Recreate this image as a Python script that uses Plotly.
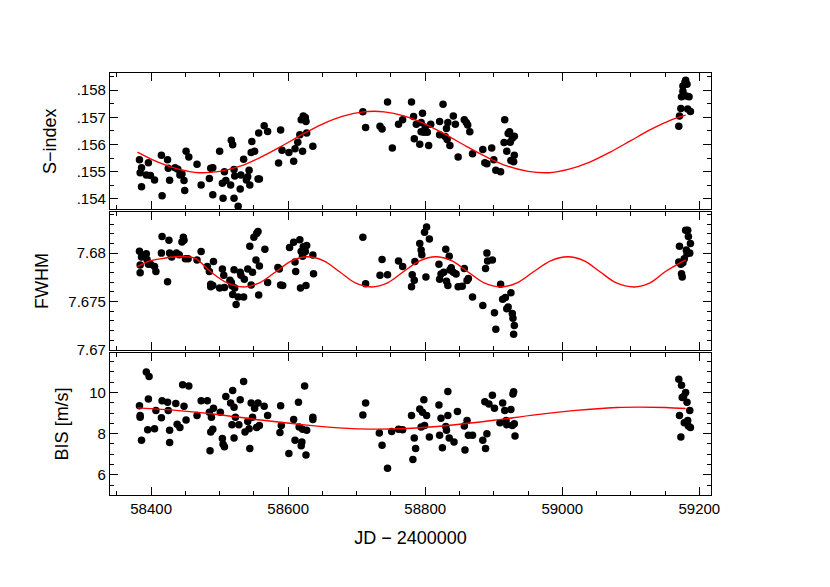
import plotly.graph_objects as go
from plotly.subplots import make_subplots

s_jd = [58383,58384,58386,58386,58393,58396,58399,58405,58415,58416,58424,58425,58427,58435,58439,58442,58445,58448,58449,58451,58455,58467,58473,58485,58487,58490,58490,58500,58504,58505,58507,58509,58516,58517,58519,58521,58521,58522,58527,58530,58531,58535,58539,58541,58543,58544,58546,58547,58551,58557,58556,58558,58565,58570,58586,58589,58591,58601,58608,58610,58614,58617,58619,58621,58622,58625,58626,58627,58636,58709,58713,58734,58737,58745,58752,58761,58767,58780,58783,58784,58787,58792,58794,58796,58794,58798,58800,58803,58805,58808,58821,58821,58826,58829,58831,58832,58833,58836,58841,58844,58848,58857,58860,58862,58865,58869,58884,58887,58890,58897,58900,58903,58910,58916,58915,58919,58921,58923,58924,58925,58927,58930,58929,58930,59170,59171,59173,59174,59176,59176,59179,59180,59181,59182,59183,59185,59187]
s_val = [.15544,.15496,.15444,.15514,.15487,.15533,.15486,.15469,.15560,.15411,.15544,.15512,.15468,.15514,.15509,.15487,.15491,.15467,.15430,.15575,.15554,.15527,.15451,.15475,.15512,.15514,.15415,.15575,.15457,.15402,.15499,.15467,.15451,.15615,.15599,.15508,.15402,.15484,.15372,.15436,.15487,.15545,.15469,.15481,.15505,.15451,.15570,.15611,.15575,.15642,.15473,.15473,.15669,.15648,.15532,.15653,.15579,.15570,.15538,.15584,.15608,.15636,.15691,.15575,.15705,.15699,.15684,.15642,.15593,.15720,.15662,.15667,.15657,.15756,.15587,.15674,.15691,.15756,.15703,.15621,.15674,.15601,.15681,.15715,.15647,.15645,.15663,.15645,.15596,.15674,.15684,.15636,.15748,.15629,.15659,.15618,.15681,.15596,.15705,.15674,.15554,.15691,.15681,.15672,.15647,.15566,.15581,.15533,.15529,.15587,.15544,.15505,.15499,.15691,.15607,.15575,.15640,.15647,.15608,.15541,.15623,.15630,.15536,.15560,.15667,.15705,.15732,.15776,.15796,.15815,.15829,.15836,.15778,.15822,.15730,.15776,.15721]

f_jd = [58383,58384,58384,58386,58393,58394,58396,58399,58405,58407,58416,58415,58424,58426,58427,58430,58437,58441,58445,58447,58448,58450,58454,58467,58473,58482,58485,58487,58487,58490,58491,58500,58504,58506,58507,58515,58517,58518,58519,58521,58522,58524,58527,58530,58531,58535,58536,58541,58544,58546,58548,58550,58553,58554,58556,58558,58557,58566,58570,58585,58587,58589,58592,58602,58608,58610,58611,58617,58618,58619,58621,58622,58625,58626,58627,58636,58637,58709,58713,58734,58737,58745,58761,58767,58780,58781,58784,58785,58792,58794,58795,58799,58801,58802,58806,58820,58821,58823,58827,58830,58831,58833,58835,58836,58838,58841,58845,58848,58854,58857,58861,58863,58869,58884,58888,58890,58891,58898,58901,58903,58910,58913,58917,58919,58921,58925,58927,58928,58930,58929,59170,59171,59173,59174,59175,59176,59178,59180,59181,59182,59183,59184,59186,59187]
f_val = [7.68020,7.67796,7.67878,7.67961,7.67993,7.67934,7.67885,7.67885,7.67862,7.67809,7.68171,7.68000,7.67704,7.68132,7.68000,7.67961,7.68000,7.67984,7.68115,7.68164,7.68132,7.67941,7.67941,7.67928,7.68016,7.67862,7.67809,7.67678,7.67651,7.67664,7.67914,7.67638,7.67836,7.67770,7.67645,7.67720,7.67697,7.67661,7.67572,7.67829,7.67638,7.67467,7.67546,7.67803,7.67770,7.67546,7.67730,7.67836,7.68072,7.67671,7.67803,7.68164,7.67928,7.68204,7.68224,7.67868,7.67566,7.68039,7.67697,7.67852,7.67836,7.67671,7.67664,7.68059,7.68112,7.67908,7.67809,7.68138,7.67638,7.68016,7.67967,7.68066,7.68016,7.67664,7.68079,7.67980,7.67786,7.68164,7.67684,7.67770,7.67934,7.67776,7.67918,7.67862,7.67651,7.67776,7.67720,7.67914,7.68099,7.68033,7.67984,7.68217,7.67753,7.68270,7.68145,7.67885,7.67730,7.67783,7.67803,7.68039,7.67710,7.67664,7.67967,7.67826,7.67849,7.67803,7.67783,7.67651,7.67658,7.67842,7.67717,7.67737,7.67546,7.67457,7.67842,7.68000,7.67918,7.67928,7.67382,7.67211,7.67678,7.67523,7.67540,7.67424,7.67441,7.67589,7.67375,7.67326,7.67250,7.67161,7.67908,7.68072,7.67885,7.67786,7.67753,7.67901,7.67941,7.68237,7.68033,7.67993,7.68237,7.68171,7.68000,7.68099]

b_jd = [58383,58384,58384,58386,58393,58396,58397,58395,58405,58407,58415,58416,58424,58425,58427,58427,58436,58438,58442,58446,58448,58451,58455,58467,58473,58482,58485,58486,58487,58488,58490,58491,58501,58504,58505,58507,58509,58516,58518,58519,58521,58521,58523,58528,58530,58535,58537,58541,58543,58544,58546,58548,58551,58554,58556,58558,58565,58570,58588,58589,58590,58601,58608,58610,58615,58616,58619,58620,58621,58624,58626,58627,58636,58636,58709,58713,58733,58737,58745,58751,58761,58767,58780,58782,58784,58786,58792,58794,58796,58798,58799,58802,58806,58820,58821,58823,58825,58830,58831,58833,58833,58835,58842,58847,58857,58858,58861,58863,58869,58884,58887,58888,58890,58893,58898,58901,58909,58913,58916,58918,58919,58925,58927,58928,58929,58930,58931,59170,59171,59173,59174,59175,59177,59178,59180,59182,59183,59184,59186,59187]
b_val = [9.36,8.88,8.80,7.68,10.99,9.68,10.77,8.19,8.24,9.12,8.77,9.60,9.52,9.12,7.57,8.16,9.47,8.46,8.30,10.38,9.33,8.66,10.32,8.88,9.60,9.60,9.04,7.17,8.08,8.80,8.21,9.23,9.04,7.76,7.49,7.36,9.81,9.49,8.43,10.10,9.28,7.79,8.80,8.43,9.65,10.53,8.08,8.59,8.24,7.28,9.49,8.80,9.23,8.30,9.49,8.40,9.33,8.88,8.05,9.36,8.40,7.04,8.69,7.68,9.52,8.32,7.41,7.60,8.21,10.32,6.96,8.16,8.69,8.80,8.91,9.49,8.03,7.44,6.32,8.11,8.21,8.19,8.88,6.74,7.79,7.28,9.20,8.32,9.04,9.65,8.40,8.88,7.84,9.39,7.92,8.75,7.31,8.35,8.16,10.05,8.88,7.79,7.60,9.07,8.37,7.20,8.64,7.92,7.92,7.68,9.55,7.28,8.00,9.44,9.87,9.23,8.53,9.49,9.12,8.64,8.43,9.17,8.40,9.92,10.03,8.48,7.89,10.64,8.88,7.84,10.35,9.76,9.81,8.53,10.00,9.52,8.64,8.37,9.12,8.30]

s_fit_jd = [58380,58410,58440,58470,58500,58530,58560,58590,58620,58650,58680,58710,58740,58770,58800,58830,58860,58890,58920,58950,58980,59010,59040,59070,59100,59130,59160,59180]
s_fit = [.15572,.15535,.15509,.15496,.15501,.15520,.15553,.15593,.15636,.15675,.15704,.15720,.15720,.15704,.15675,.15636,.15593,.15553,.15520,.15501,.15496,.15509,.15535,.15572,.15614,.15656,.15691,.15708]

f_fit_jd = [58380,58395,58418,58440,58464,58487,58511,58535,58558,58582,58605,58628,58652,58675,58698,58722,58745,58768,58792,58815,58839,58862,58886,58910,58934,58958,58983,59008,59032,59055,59079,59105,59128,59150,59180]
f_fit = [7.67860,7.67912,7.67946,7.67965,7.67946,7.67807,7.67692,7.67650,7.67692,7.67807,7.67920,7.67962,7.67920,7.67807,7.67692,7.67650,7.67692,7.67807,7.67920,7.67962,7.67920,7.67807,7.67692,7.67650,7.67692,7.67807,7.67920,7.67962,7.67920,7.67807,7.67692,7.67650,7.67692,7.67807,7.67930]

b_fit_jd = [58380,58440,58500,58560,58620,58680,58720,58780,58840,58900,58960,59020,59080,59110,59150,59180]
b_fit = [9.25,9.12,8.92,8.66,8.44,8.27,8.22,8.26,8.42,8.65,8.91,9.13,9.27,9.29,9.27,9.22]

x_ticks = [58400, 58600, 58800, 59000, 59200]

fig = make_subplots(rows=3, cols=1, shared_xaxes=True, vertical_spacing=0.006,
                    row_heights=[138, 140, 144])

mk = dict(color="black", size=7.5)
line = dict(color="red", width=1.4, shape="spline", smoothing=1.0)
for r, (xj, yv, fx, fy) in enumerate([(s_jd, s_val, s_fit_jd, s_fit),
                                      (f_jd, f_val, f_fit_jd, f_fit),
                                      (b_jd, b_val, b_fit_jd, b_fit)], start=1):
    fig.add_trace(go.Scatter(x=xj, y=yv, mode="markers", marker=mk, showlegend=False), row=r, col=1)
    fig.add_trace(go.Scatter(x=fx, y=fy, mode="lines", line=line, showlegend=False), row=r, col=1)

ax = dict(showline=True, linecolor="black", linewidth=1.2, mirror="allticks", ticks="inside",
          ticklen=8, tickcolor="black", showgrid=False, zeroline=False,
          minor=dict(ticks="inside", ticklen=4, tickcolor="black"))
for r in (1, 2, 3):
    fig.update_xaxes(range=[58340, 59217], tickvals=x_ticks, ticktext=[str(v) for v in x_ticks],
                     minor=dict(ticks="inside", ticklen=4, tickcolor="black", dtick=50),
                     **{k: v for k, v in ax.items() if k != "minor"}, row=r, col=1)
fig.update_xaxes(title_text="JD − 2400000", row=3, col=1)
fig.update_yaxes(range=[0.15361, 0.15863], tickvals=[.154, .155, .156, .157, .158],
                 ticktext=[".154", ".155", ".156", ".157", ".158"], title_text="S−index", row=1, col=1, **ax)
fig.update_yaxes(range=[7.66995, 7.68427], tickvals=[7.67, 7.675, 7.68],
                 ticktext=["7.67", "7.675", "7.68"], title_text="FWHM", row=2, col=1, **ax)
fig.update_yaxes(range=[5.02, 11.93], tickvals=[6, 8, 10], title_text="BIS [m/s]", row=3, col=1, **ax)

fig.update_layout(width=830, height=587, plot_bgcolor="white", paper_bgcolor="white",
                  margin=dict(l=102, r=127, t=65, b=100),
                  font=dict(family="Liberation Sans, Arial", size=15, color="black"))
fig.write_html("out.html")
